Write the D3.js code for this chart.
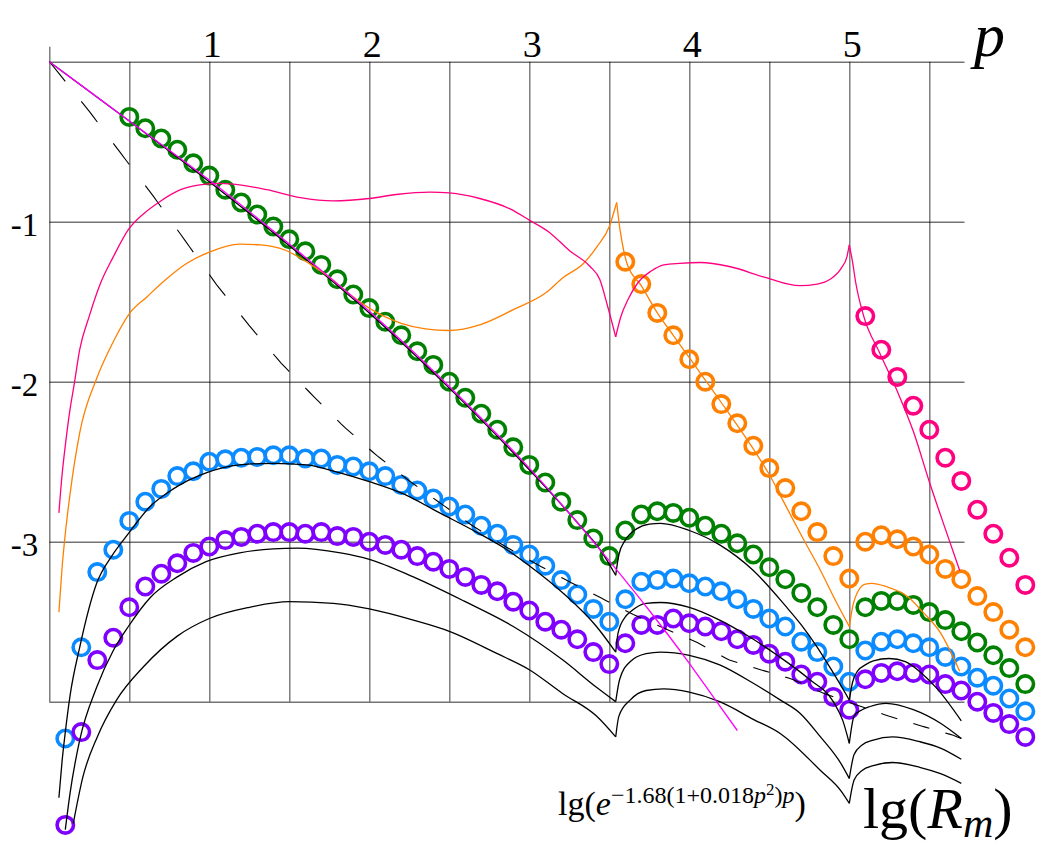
<!DOCTYPE html>
<html><head><meta charset="utf-8">
<script src="https://cdn.jsdelivr.net/npm/d3@7"></script>
<style>body{margin:0;background:#fff}svg{display:block}</style>
</head><body>
<svg id="c" width="1037" height="850"></svg>
<script>
// ---------- DATA ----------
const gridP = [0,0.5,1,1.5,2,2.5,3,3.5,4,4.5,5,5.5];
const topTickLabels = {1:"1",2:"2",3:"3",4:"4",5:"5"};
const leftTicks = [0,-1,-2,-3,-4];
const leftTickLabels = {"-1":"-1","-2":"-2","-3":"-3"};

// circle sample positions (p)
const pA = [0.1,0.2,0.3,0.4,0.5,0.6,0.7,0.8,0.9,1.0,1.1,1.2,1.3,1.4,1.5,1.6,1.7,1.8,1.9,2.0,2.1,2.2,2.3,2.4,2.5,2.6,2.7,2.8,2.9,3.0,3.1,3.2,3.3,3.4,3.5];
const pB = [3.6,3.7,3.8,3.9,4.0,4.1,4.2,4.3,4.4,4.5,4.6,4.7,4.8,4.9,5.0];
const pC = [5.1,5.2,5.3,5.4,5.5,5.6,5.7,5.8,5.9,6.0,6.1];

// green circles
const greenA = [-0.345,-0.416,-0.48,-0.55,-0.635,-0.712,-0.80,-0.88,-0.955,-1.03,-1.11,-1.185,-1.27,-1.36,-1.455,-1.54,-1.625,-1.71,-1.81,-1.895,-2.0,-2.10,-2.20,-2.30,-2.41,-2.52,-2.63,-2.75,-2.865,-2.98,-3.09];
const greenB = [-2.93,-2.83,-2.81,-2.82,-2.85,-2.90,-2.95,-3.01,-3.08,-3.16,-3.235,-3.32,-3.41,-3.52,-3.61];
const greenC = [-3.41,-3.37,-3.37,-3.395,-3.44,-3.49,-3.56,-3.63,-3.71,-3.79,-3.89];
// blue circles
const blueA = [-4.23,-3.66,-3.19,-3.05,-2.87,-2.75,-2.67,-2.59,-2.56,-2.50,-2.485,-2.475,-2.47,-2.46,-2.46,-2.48,-2.48,-2.52,-2.53,-2.56,-2.59,-2.645,-2.68,-2.73,-2.78,-2.83,-2.90,-2.95,-3.02,-3.08,-3.15,-3.24,-3.33,-3.42,-3.50];
const blueB = [-3.36,-3.25,-3.24,-3.23,-3.26,-3.28,-3.31,-3.36,-3.42,-3.48,-3.53,-3.625,-3.69,-3.78,-3.875];
const blueC = [-3.68,-3.625,-3.61,-3.635,-3.66,-3.72,-3.78,-3.85,-3.90,-3.98,-4.06];
// purple circles
const purpleA = [-4.77,-4.19,-3.74,-3.60,-3.41,-3.28,-3.20,-3.135,-3.07,-3.03,-2.99,-2.97,-2.95,-2.94,-2.94,-2.95,-2.94,-2.965,-2.97,-3.0,-3.02,-3.05,-3.09,-3.125,-3.17,-3.22,-3.27,-3.31,-3.375,-3.43,-3.50,-3.55,-3.61,-3.69,-3.765];
const purpleB = [-3.635,-3.52,-3.52,-3.48,-3.51,-3.53,-3.56,-3.61,-3.645,-3.70,-3.75,-3.83,-3.875,-3.97,-4.05];
const purpleC = [-3.86,-3.82,-3.81,-3.82,-3.83,-3.89,-3.93,-4.0,-4.07,-4.14,-4.22];
// orange circles
const orangeB = [-1.25,-1.39,-1.57,-1.71,-1.86,-2.0,-2.14,-2.26,-2.40,-2.54,-2.665,-2.81,-2.94,-3.09,-3.23];
const orangeC = [-3.0,-2.96,-2.985,-3.03,-3.08,-3.17,-3.235,-3.34,-3.44,-3.55,-3.66];
// pink circles
const pinkC = [-1.59,-1.80,-1.97,-2.15,-2.30,-2.475,-2.62,-2.80,-2.95,-3.10,-3.27];

// black solid curves [p, lg R]
const k1s1 = [[0,0],[0.5,-0.37],[1,-0.75],[1.5,-1.15],[2,-1.57],[2.5,-2.04],[3,-2.55],[3.3,-2.88],[3.45,-3.06],[3.54,-3.21]];
const k1s2 = [[3.54,-3.21],[3.56,-3.08],[3.6,-2.99],[3.67,-2.92],[3.75,-2.89],[3.82,-2.885],[4.0,-2.93],[4.19,-3.02],[4.4,-3.18],[4.6,-3.40],[4.7,-3.52],[4.8,-3.66],[4.9,-3.82],[4.96,-3.92],[5.0,-3.99]];
const k1s3 = [[5.0,-3.99],[5.02,-3.88],[5.05,-3.81],[5.1,-3.77],[5.15,-3.745],[5.25,-3.73],[5.35,-3.75],[5.45,-3.82],[5.55,-3.92],[5.7,-4.12]];
const k2s1 = [[0.06,-4.60],[0.08,-4.37],[0.1,-4.19],[0.13,-3.96],[0.19,-3.66],[0.296,-3.26],[0.39,-3.09],[0.494,-2.95],[0.63,-2.78],[0.775,-2.67],[0.98,-2.57],[1.19,-2.52],[1.4,-2.51],[1.61,-2.52],[1.8,-2.565],[2.0,-2.625],[2.21,-2.70],[2.44,-2.82],[2.67,-2.94],[2.86,-3.05],[3.0,-3.15],[3.21,-3.32],[3.42,-3.53],[3.54,-3.69]];
const k2s2 = [[3.54,-3.69],[3.555,-3.57],[3.6,-3.47],[3.63,-3.44],[3.73,-3.385],[3.82,-3.38],[4.0,-3.41],[4.19,-3.49],[4.36,-3.585],[4.55,-3.71],[4.75,-3.86],[4.9,-4.0],[4.96,-4.12],[5.0,-4.26]];
const k2s3 = [[5.0,-4.26],[5.03,-4.09],[5.08,-4.05],[5.13,-4.03],[5.23,-4.01],[5.4,-4.05],[5.57,-4.135],[5.7,-4.23]];
const k3s1 = [[0.1,-4.80],[0.13,-4.57],[0.19,-4.24],[0.296,-3.91],[0.4,-3.68],[0.494,-3.53],[0.63,-3.35],[0.8,-3.22],[0.98,-3.125],[1.19,-3.07],[1.4,-3.045],[1.55,-3.04],[1.82,-3.07],[2.0,-3.11],[2.275,-3.22],[2.59,-3.37],[2.9,-3.53],[3.21,-3.74],[3.42,-3.91],[3.54,-4.0]];
const k3s2 = [[3.54,-4.0],[3.565,-3.86],[3.63,-3.75],[3.73,-3.70],[3.82,-3.69],[4.0,-3.71],[4.19,-3.77],[4.4,-3.885],[4.57,-3.99],[4.69,-4.07],[4.82,-4.22],[4.95,-4.39],[5.0,-4.48]];
const k3s3 = [[5.0,-4.48],[5.03,-4.33],[5.08,-4.27],[5.15,-4.24],[5.27,-4.22],[5.44,-4.25],[5.57,-4.29],[5.7,-4.36]];
const k4s1 = [[0.15,-4.76],[0.21,-4.47],[0.3,-4.22],[0.42,-3.99],[0.59,-3.78],[0.8,-3.59],[1.0,-3.48],[1.25,-3.41],[1.5,-3.375],[1.775,-3.385],[2.0,-3.42],[2.275,-3.49],[2.5,-3.56],[2.8,-3.70],[3.0,-3.80],[3.21,-3.95],[3.42,-4.09],[3.54,-4.22]];
const k4s2 = [[3.54,-4.22],[3.56,-4.09],[3.63,-3.99],[3.73,-3.93],[3.84,-3.92],[4.0,-3.94],[4.19,-4.0],[4.4,-4.11],[4.57,-4.2],[4.82,-4.43],[4.95,-4.56],[5.0,-4.635]];
const k4s3 = [[5.0,-4.635],[5.03,-4.49],[5.08,-4.43],[5.15,-4.40],[5.27,-4.38],[5.44,-4.41],[5.57,-4.45],[5.7,-4.51]];

// thin coloured curves
const pinkS1 = [[0.06,-2.82],[0.08,-2.58],[0.1,-2.40],[0.13,-2.17],[0.155,-2.02],[0.19,-1.80],[0.25,-1.59],[0.32,-1.385],[0.4,-1.22],[0.494,-1.05],[0.59,-0.95],[0.69,-0.875],[0.82,-0.80],[0.94,-0.77],[1.05,-0.76],[1.15,-0.765],[1.36,-0.80],[1.57,-0.85],[1.775,-0.87],[2.0,-0.855],[2.17,-0.83],[2.38,-0.815],[2.5,-0.82],[2.69,-0.855],[2.88,-0.92],[3.0,-0.99],[3.13,-1.07],[3.25,-1.18],[3.38,-1.28],[3.44,-1.36],[3.49,-1.53],[3.54,-1.72]];
const pinkS2 = [[3.54,-1.72],[3.57,-1.60],[3.62,-1.48],[3.68,-1.38],[3.76,-1.31],[3.84,-1.27],[3.94,-1.26],[4.07,-1.255],[4.25,-1.28],[4.48,-1.35],[4.69,-1.40],[4.8,-1.39],[4.88,-1.36],[4.95,-1.29],[4.985,-1.22],[5.0,-1.145]];
const pinkS3 = [[5.0,-1.145],[5.02,-1.25],[5.04,-1.38],[5.09,-1.59],[5.19,-1.82],[5.3,-2.06],[5.4,-2.31],[5.5,-2.625],[5.6,-2.92],[5.69,-3.18]];
const orangeS1 = [[0.06,-3.44],[0.08,-3.16],[0.1,-2.95],[0.13,-2.70],[0.19,-2.32],[0.296,-1.98],[0.4,-1.75],[0.504,-1.57],[0.61,-1.47],[0.73,-1.36],[0.86,-1.26],[1.0,-1.19],[1.19,-1.14],[1.32,-1.145],[1.48,-1.18],[1.63,-1.265],[1.755,-1.35],[1.88,-1.455],[2.0,-1.54],[2.1,-1.595],[2.2,-1.635],[2.35,-1.67],[2.5,-1.68],[2.69,-1.645],[2.9,-1.55],[3.11,-1.44],[3.21,-1.35],[3.34,-1.26],[3.42,-1.16],[3.5,-1.03],[3.546,-0.88]];
const orangeS2 = [[3.546,-0.88],[3.567,-1.05],[3.59,-1.18],[3.61,-1.26],[3.7,-1.40],[3.8,-1.57],[3.9,-1.71],[4.0,-1.85],[4.2,-2.13],[4.4,-2.42],[4.5,-2.58],[4.6,-2.77],[4.7,-2.96],[4.82,-3.18],[4.92,-3.38],[5.0,-3.53]];
const orangeS3 = [[5.0,-3.53],[5.02,-3.41],[5.06,-3.30],[5.1,-3.265],[5.14,-3.26],[5.23,-3.28],[5.36,-3.34],[5.46,-3.44],[5.57,-3.57],[5.69,-3.81]];
const magentaLine = [[0,0],[0.5,-0.37],[1,-0.74],[1.5,-1.14],[2,-1.56],[2.5,-2.03],[3,-2.54],[3.5,-3.12],[3.75,-3.43],[4,-3.76],[4.15,-3.97],[4.3,-4.18]];
// dashed curve
const dashedLine = [[0,0],[0.05,-0.06],[0.25,-0.31],[0.445,-0.57],[0.65,-0.84],[0.85,-1.12],[1.05,-1.40],[1.25,-1.65],[1.445,-1.88],[1.65,-2.09],[1.84,-2.28],[2.045,-2.46],[2.25,-2.62],[2.445,-2.76],[2.645,-2.90],[2.85,-3.03],[3.045,-3.14],[3.25,-3.25],[3.445,-3.35],[3.64,-3.45],[3.84,-3.54],[4.05,-3.63],[4.25,-3.74],[4.445,-3.80],[4.645,-3.86],[4.845,-3.95],[5.245,-4.09],[5.445,-4.15],[5.65,-4.21],[5.7,-4.23]];

// ---------- DRAW ----------
const SERIF = "'Liberation Serif','Times New Roman',serif";
const svg = d3.select("#c");
const x = d3.scaleLinear().domain([0, 5.72]).range([49.3, 49.3 + 160 * 5.72]);
const y = d3.scaleLinear().domain([0, -4]).range([61.7, 701.7]);
const gridStyle = g => g.attr("stroke", "#000").attr("stroke-opacity", 0.55).attr("stroke-width", 1.4);

// top axis (vertical grid + p labels)
const gx = svg.append("g").attr("transform", `translate(0,${y(0)})`)
  .call(d3.axisTop(x).tickValues(gridP).tickSize(-(y(-4) - y(0))).tickSizeOuter(0).tickPadding(5)
    .tickFormat(d => topTickLabels[d] || ""));
gx.select(".domain").remove();
gx.selectAll(".tick line").call(gridStyle);
gx.selectAll(".tick text").attr("font-family", SERIF).attr("font-size", 38).attr("fill", "#000").attr("dx", 2.5);

// left axis (horizontal grid + lg labels)
const gy = svg.append("g").attr("transform", `translate(${x(0)},0)`)
  .call(d3.axisLeft(y).tickValues(leftTicks).tickSize(-(x(5.72) - x(0))).tickSizeOuter(0).tickPadding(11)
    .tickFormat(d => leftTickLabels[String(d)] || ""));
gy.select(".domain").remove();
gy.selectAll(".tick line").call(gridStyle);
gy.selectAll(".tick text").attr("font-family", SERIF).attr("font-size", 33).attr("fill", "#000").attr("dy", "0.41em");
// small extension of vertical axis above the top line
svg.append("line").attr("x1", x(0) + 0.5).attr("x2", x(0) + 0.5).attr("y1", y(0) - 15).attr("y2", y(0)).call(gridStyle);

// circles
const zip = (ps, vs) => vs.map((v, i) => [ps[i], v]);
const circleSets = [
  [zip(pA.slice(4), greenA), "#008000"], [zip(pB, greenB), "#008000"], [zip(pC, greenC), "#008000"],
  [zip(pA, blueA), "#0a8bff"], [zip(pB, blueB), "#0a8bff"], [zip(pC, blueC), "#0a8bff"],
  [zip(pA, purpleA), "#8000ff"], [zip(pB, purpleB), "#8000ff"], [zip(pC, purpleC), "#8000ff"],
  [zip(pB, orangeB), "#ff8000"], [zip(pC, orangeC), "#ff8000"],
  [zip(pC, pinkC), "#ff0080"]
];
const gc = svg.append("g");
circleSets.forEach(([data, col]) => {
  gc.append("g").selectAll("circle").data(data).join("circle")
    .attr("cx", d => x(d[0])).attr("cy", d => y(d[1])).attr("r", 8.2)
    .attr("fill", "none").attr("stroke", col).attr("stroke-width", 3.6);
});

const line = d3.line().x(d => x(d[0])).y(d => y(d[1])).curve(d3.curveMonotoneX);
const drawLine = (data, col, w) => svg.append("path").attr("d", line(data))
  .attr("fill", "none").attr("stroke", col).attr("stroke-width", w).attr("stroke-linejoin", "round");

// black curves
[k1s1, k1s2, k1s3, k2s1, k2s2, k2s3, k3s1, k3s2, k3s3, k4s1, k4s2, k4s3].forEach(s => drawLine(s, "#000", 1.3));

// dashed curve: dashes of 0.1 in p every 0.2
const dashInterp = d3.scaleLinear().domain(dashedLine.map(d => d[0])).range(dashedLine.map(d => d[1]));
const lin = d3.line().x(d => x(d[0])).y(d => y(d[1]));
for (let k = 0; k <= 28; k++) {
  const a = 0.2 * k, b = Math.min(a + 0.1, 5.7);
  const seg = [0, 0.25, 0.5, 0.75, 1].map(t => { const p = a + (b - a) * t; return [p, dashInterp(p)]; });
  svg.append("path").attr("d", lin(seg)).attr("fill", "none").attr("stroke", "#000").attr("stroke-width", 1.1);
}

// thin coloured curves
[orangeS1, orangeS2, orangeS3].forEach(s => drawLine(s, "#ff8000", 1.3));
[pinkS1, pinkS2, pinkS3].forEach(s => drawLine(s, "#ff0080", 1.3));
drawLine(magentaLine, "#ff00ff", 1.3);

// axis titles
svg.append("text").attr("x", 974).attr("y", 56).attr("font-family", SERIF).attr("font-style", "italic")
  .attr("font-size", 62).text("p");

const t1 = svg.append("text").attr("x", 863).attr("y", 828).attr("font-family", SERIF).attr("font-size", 58);
t1.append("tspan").text("lg(");
t1.append("tspan").attr("font-style", "italic").text("R");
t1.append("tspan").attr("font-style", "italic").attr("font-size", 42).attr("dy", 9).text("m");
t1.append("tspan").attr("dy", -9).text(")");

const t2 = svg.append("text").attr("x", 558).attr("y", 815).attr("font-family", SERIF).attr("font-size", 34);
t2.append("tspan").text("lg(");
t2.append("tspan").attr("font-style", "italic").text("e");
t2.append("tspan").attr("font-size", 24).attr("dy", -12).text("\u22121.68(1+0.018");
t2.append("tspan").attr("font-size", 24).attr("font-style", "italic").text("p");
t2.append("tspan").attr("font-size", 17).attr("dy", -8).text("2");
t2.append("tspan").attr("font-size", 24).attr("dy", 8).text(")");
t2.append("tspan").attr("font-size", 24).attr("font-style", "italic").text("p");
t2.append("tspan").attr("dy", 12).text(")");
</script>
</body></html>
